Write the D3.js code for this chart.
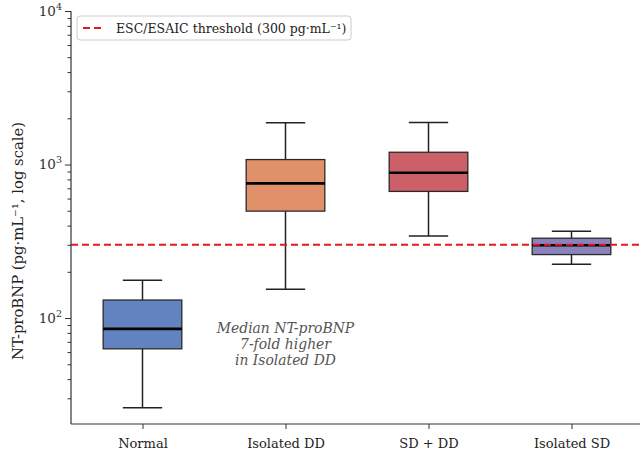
<!DOCTYPE html>
<html lang="en">
<head>
<meta charset="utf-8">
<title>NT-proBNP</title>
<script src="https://d3js.org/d3.v7.min.js"></script>
<style>
  body { margin: 0; background: #fff; }
  text { font-family: "DejaVu Serif", serif; }
</style>
</head>
<body>
<div id="chart"></div>
<script>
// groups and box stats (pg/mL)
const groups = ["Normal", "Isolated DD", "SD + DD", "Isolated SD"];
const whiskLo = [26, 154, 342, 224];
const q1 = [63, 497, 668, 259];
const median = [85, 753, 884, 298];
const q3 = [131, 1077, 1202, 331];
const whiskHi = [176, 1874, 1880, 367];
const colors = ["#6283bf", "#e1916a", "#cc6068", "#8a82bd"];
const threshold = 300;
const yDecades = [100, 1000, 10000];

const W = 640, H = 455;
const margin = {top: 11, right: -3, bottom: 31, left: 71};
const width = W - margin.left - margin.right,
      height = H - margin.top - margin.bottom;

const svg = d3.select("#chart").append("svg")
    .attr("width", W).attr("height", H);
const g = svg.append("g")
    .attr("transform", `translate(${margin.left},${margin.top})`);

const x = d3.scaleLinear().domain([-0.5, 3.5]).range([0, width]);
const y = d3.scaleLog().domain([20.4, 10000]).range([height, 0]);

const boxW = 0.55, capW = 0.275;

// boxes
groups.forEach(function (name, i) {
  const cx = x(i);
  const bw = x(boxW) - x(0), cw = x(capW) - x(0);
  const bg = g.append("g");
  bg.append("line").attr("x1", cx).attr("x2", cx)
    .attr("y1", y(whiskLo[i])).attr("y2", y(q1[i]))
    .attr("stroke", "#222").attr("stroke-width", 1.5);
  bg.append("line").attr("x1", cx).attr("x2", cx)
    .attr("y1", y(q3[i])).attr("y2", y(whiskHi[i]))
    .attr("stroke", "#222").attr("stroke-width", 1.5);
  [whiskLo[i], whiskHi[i]].forEach(function (v) {
    bg.append("line").attr("x1", cx - cw / 2).attr("x2", cx + cw / 2)
      .attr("y1", y(v)).attr("y2", y(v))
      .attr("stroke", "#222").attr("stroke-width", 1.5);
  });
  bg.append("rect")
    .attr("x", cx - bw / 2).attr("width", bw)
    .attr("y", y(q3[i])).attr("height", y(q1[i]) - y(q3[i]))
    .attr("fill", colors[i]).attr("stroke", "#2a2a2a").attr("stroke-width", 1.3);
  bg.append("line").attr("x1", cx - bw / 2).attr("x2", cx + bw / 2)
    .attr("y1", y(median[i])).attr("y2", y(median[i]))
    .attr("stroke", "#000").attr("stroke-width", 2.6);
});

// threshold line
g.append("line")
  .attr("x1", 0).attr("x2", width)
  .attr("y1", y(threshold)).attr("y2", y(threshold))
  .attr("stroke", "#e3191c").attr("stroke-width", 2)
  .attr("stroke-dasharray", "7,4");

// y axis with minor ticks
const minor = [];
for (let d = 10; d < 10000; d *= 10) {
  for (let k = 2; k <= 9; k++) {
    if (d * k >= y.domain()[0]) minor.push(d * k);
  }
}
const yMinor = g.append("g").call(d3.axisLeft(y).tickValues(minor).tickSize(3.5).tickFormat(""));
yMinor.select(".domain").remove();
const yAxis = g.append("g").call(d3.axisLeft(y).tickValues(yDecades).tickSize(6).tickFormat(""));
yAxis.selectAll("line, path").attr("stroke", "#333");
yMinor.selectAll("line").attr("stroke", "#333");
yAxis.select(".domain").attr("d", `M0,0V${height}`).attr("stroke-width", 1.2);

yDecades.forEach(function (v) {
  const t = g.append("text")
    .attr("x", -9).attr("y", y(v) + 4.5)
    .attr("text-anchor", "end")
    .attr("font-size", 13.5).attr("fill", "#333");
  t.append("tspan").text("10");
  t.append("tspan").attr("dy", -6).attr("font-size", 9.5).text(Math.log10(v));
});

// x axis
const xAxis = g.append("g")
  .attr("transform", `translate(0,${height})`)
  .call(d3.axisBottom(x).tickValues([0, 1, 2, 3]).tickSize(5)
    .tickFormat(function (d) { return groups[d]; }));
xAxis.selectAll("line, path").attr("stroke", "#333");
xAxis.select(".domain").attr("d", `M0,0H${width}`).attr("stroke-width", 1.2);
xAxis.selectAll("text")
  .attr("font-family", "DejaVu Serif").attr("font-size", 13)
  .attr("fill", "#222").attr("dy", "1.2em");

// y label
svg.append("text")
  .attr("transform", `translate(23,241) rotate(-90)`)
  .attr("text-anchor", "middle")
  .attr("font-size", 14.8).attr("fill", "#222")
  .text("NT-proBNP (pg·mL\u207B\u00B9, log scale)");

// annotation
const note = ["Median NT-proBNP", "7-fold higher", "in Isolated DD"];
note.forEach(function (s, i) {
  g.append("text")
    .attr("x", x(1)).attr("y", y(85) + 4 + i * 16)
    .attr("text-anchor", "middle")
    .attr("font-size", 13.9).attr("font-style", "italic").attr("fill", "#555")
    .text(s);
});

// legend
const lg = svg.append("g").attr("transform", "translate(77,16)");
lg.append("rect").attr("width", 274).attr("height", 24).attr("rx", 3)
  .attr("fill", "#fff").attr("stroke", "#ccc");
lg.append("line").attr("x1", 6).attr("x2", 28).attr("y1", 12).attr("y2", 12)
  .attr("stroke", "#e3191c").attr("stroke-width", 2).attr("stroke-dasharray", "7,4");
lg.append("text").attr("x", 39).attr("y", 16.5)
  .attr("font-size", 12.5).attr("fill", "#222")
  .text("ESC/ESAIC threshold (300 pg·mL\u207B\u00B9)");
</script>
</body>
</html>
